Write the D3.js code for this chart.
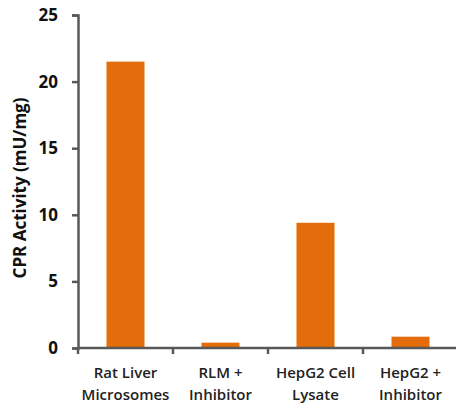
<!DOCTYPE html>
<html>
<head>
<meta charset="utf-8">
<script src="https://cdn.jsdelivr.net/npm/d3@7"></script>
<style>
  body { margin: 0; background: #fff; }
  text { font-family: "Open Sans", sans-serif; }
</style>
</head>
<body>
<div id="chart"></div>
<script>
var width = 456;
var height = 409;

var categories = [["Rat Liver", "Microsomes"], ["RLM +", "Inhibitor"], ["HepG2 Cell", "Lysate"], ["HepG2 +", "Inhibitor"]];
var values = [21.5, 0.4, 9.4, 0.85];
var yTicks = [0, 5, 10, 15, 20, 25];

var svg = d3.select("#chart")
  .append("svg")
  .attr("width", width)
  .attr("height", height);

// scales
var xScale = d3.scaleBand()
  .domain(d3.range(categories.length))
  .range([78, 458])
  .paddingInner(0.6)
  .paddingOuter(0.3);
var yScale = d3.scaleLinear().domain([0, 25]).range([348, 15]);

// bars
svg.selectAll("rect.bar")
  .data(values)
  .enter()
  .append("rect")
  .attr("class", "bar")
  .attr("x", function (d, i) { return xScale(i); })
  .attr("y", function (d) { return yScale(d); })
  .attr("width", xScale.bandwidth())
  .attr("height", function (d) { return yScale(0) - yScale(d); })
  .attr("fill", "#E46C0A");

// y axis
var yAxis = d3.axisLeft(yScale).tickValues(yTicks).tickSize(6).tickPadding(14);
var gy = svg.append("g")
  .attr("transform", "translate(78,0)")
  .call(yAxis);
gy.select(".domain").attr("stroke", "#595959").attr("stroke-width", 2.5);
gy.selectAll(".tick line").attr("stroke", "#595959").attr("stroke-width", 2.5);
gy.selectAll(".tick text")
  .attr("fill", "#111")
  .style("font-size", "17px")
  .style("font-weight", "bold");

// x axis line with ticks between categories
var x0 = 78;
svg.append("line")
  .attr("x1", x0).attr("x2", 458)
  .attr("y1", yScale(0)).attr("y2", yScale(0))
  .attr("stroke", "#595959").attr("stroke-width", 2.5);
svg.selectAll("line.xtick")
  .data(d3.range(categories.length))
  .enter()
  .append("line")
  .attr("class", "xtick")
  .attr("x1", function (d) { return x0 + d * 95; })
  .attr("x2", function (d) { return x0 + d * 95; })
  .attr("y1", yScale(0))
  .attr("y2", yScale(0) + 6)
  .attr("stroke", "#595959").attr("stroke-width", 2.5);

// category labels
var labels = svg.selectAll("text.cat")
  .data(categories)
  .enter()
  .append("text")
  .attr("class", "cat")
  .attr("text-anchor", "middle")
  .attr("fill", "#222")
  .style("font-size", "15px")
  .style("font-weight", "600");
labels.append("tspan")
  .attr("x", function (d, i) { return xScale(i) + xScale.bandwidth() / 2; })
  .attr("y", 378)
  .text(function (d) { return d[0]; });
labels.append("tspan")
  .attr("x", function (d, i) { return xScale(i) + xScale.bandwidth() / 2; })
  .attr("y", 400)
  .text(function (d) { return d[1]; });

// y axis title
svg.append("text")
  .attr("transform", "translate(26,188) rotate(-90)")
  .attr("text-anchor", "middle")
  .attr("fill", "#111")
  .style("font-size", "17px")
  .style("font-weight", "bold")
  .text("CPR Activity (mU/mg)");
</script>
</body>
</html>
